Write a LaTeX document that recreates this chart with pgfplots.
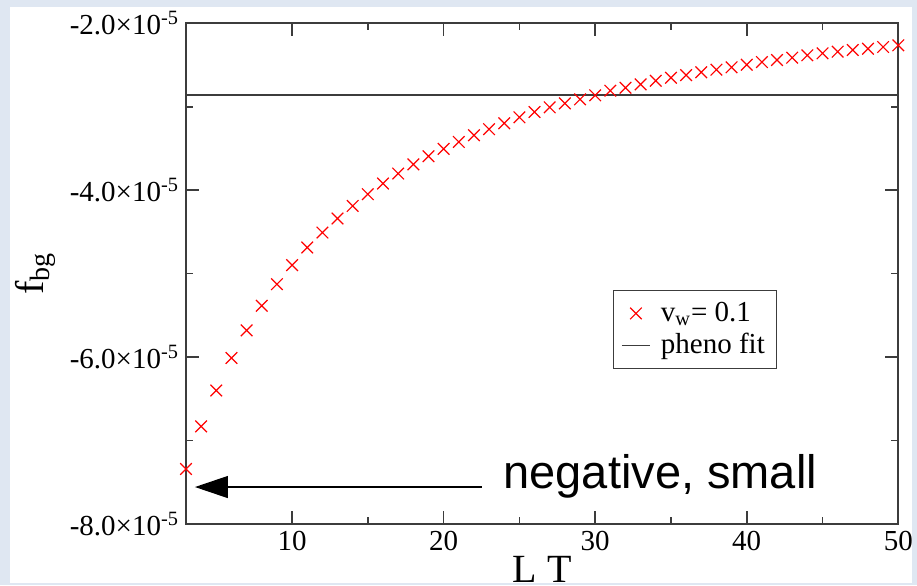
\documentclass[border=0pt]{standalone}
\usepackage{pgfplots}
\pgfplotsset{compat=1.18}
\usepackage{fontspec}
\setmainfont{Liberation Serif}
\newfontfamily\arialfont{Liberation Sans}
\usetikzlibrary{arrows.meta}
\definecolor{bgblue}{RGB}{223,231,242}
\definecolor{axgray}{RGB}{60,60,60}
\pgfplotsset{
  lineleg/.style={legend image code/.code={\draw[##1] (0pt,0pt) -- (14pt,0pt); \path[draw=none,fill=none] (0pt,0pt) -- (17.5pt,0pt);}},
  markleg/.style={legend image code/.code={\draw[##1,mark repeat=2,mark phase=2] plot coordinates {(0pt,0pt)(7pt,0pt)(14pt,0pt)}; \path[draw=none,fill=none] (0pt,0pt) -- (17.5pt,0pt);}},
}
\begin{document}
\begin{tikzpicture}
\fill[bgblue] (0,0) rectangle (458.5pt,292.5pt);
\fill[white] (5pt,1pt) rectangle (456pt,288.8pt);
\begin{axis}[
  at={(93pt,30.5pt)}, anchor=south west,
  scale only axis, width=356.15pt, height=250.35pt,
  xmin=3, xmax=50, ymin=-8e-5, ymax=-2e-5,
  clip=false,
  scaled y ticks=false,
  axis line style={axgray, line width=1pt},
  every tick/.style={axgray, line width=0.8pt},
  major tick length=6.5pt, minor tick length=3.5pt,
  xtick={10,20,30,40,50},
  xticklabels={10,20,30,40,50},
  minor x tick num=1,
  ytick={-8e-5,-6e-5,-4e-5,-2e-5},
  yticklabels={-8.0×10\textsuperscript{-5},-6.0×10\textsuperscript{-5},-4.0×10\textsuperscript{-5},-2.0×10\textsuperscript{-5}},
  minor y tick num=1,
  tick label style={font=\fontsize{14.5}{17}\selectfont},
  xlabel={L T}, ylabel={f\textsubscript{bg}},
  label style={font=\fontsize{20}{24}\selectfont},
  xlabel style={yshift=4pt},
  legend style={at={(0.599,0.467)}, anchor=north west, draw=axgray, line width=0.6pt,
    font=\fontsize{14.5}{17}\selectfont, inner xsep=4pt, inner ysep=3.75pt,
    cells={anchor=west}, row sep=0.5pt},
]
\addplot[only marks, mark=x, mark size=4.1pt, red, mark options={line width=0.6pt}, markleg]
  coordinates {
(3,-7.34e-5) (4,-6.83e-5) (5,-6.40e-5) (6,-6.01e-5) (7,-5.68e-5) (8,-5.385e-5)
(9,-5.126e-5) (10,-4.898e-5) (11,-4.686e-5) (12,-4.507e-5) (13,-4.339e-5) (14,-4.188e-5)
(15,-4.048e-5) (16,-3.92e-5) (17,-3.80e-5) (18,-3.69e-5) (19,-3.593e-5) (20,-3.505e-5)
(21,-3.421e-5) (22,-3.341e-5) (23,-3.269e-5) (24,-3.198e-5) (25,-3.126e-5) (26,-3.063e-5)
(27,-3.007e-5) (28,-2.959e-5) (29,-2.911e-5) (30,-2.863e-5) (31,-2.808e-5) (32,-2.772e-5)
(33,-2.731e-5) (34,-2.688e-5) (35,-2.652e-5) (36,-2.620e-5) (37,-2.587e-5) (38,-2.556e-5)
(39,-2.527e-5) (40,-2.496e-5) (41,-2.464e-5) (42,-2.440e-5) (43,-2.412e-5) (44,-2.383e-5)
(45,-2.360e-5) (46,-2.340e-5) (47,-2.320e-5) (48,-2.304e-5) (49,-2.284e-5) (50,-2.264e-5)
};
\addlegendentry{v\textsubscript{w}= 0.1}
\addplot[axgray, line width=0.7pt, lineleg]
  coordinates {(3,-2.86e-5) (50,-2.86e-5)};
\addlegendentry{pheno fit}
\draw[black, line width=0.65pt, -{Triangle[length=16.5pt,width=11pt]}]
  (axis cs:22.53,-7.557e-5) -- (axis cs:3.59,-7.557e-5);
\node[anchor=base west, inner sep=0pt, font=\arialfont\fontsize{23.5}{28}\selectfont]
  at (axis cs:23.93,-7.569e-5) {negative, small};
\end{axis}
\pgfresetboundingbox
\useasboundingbox (0,0) rectangle (458.5pt,292.5pt);
\end{tikzpicture}
\end{document}
